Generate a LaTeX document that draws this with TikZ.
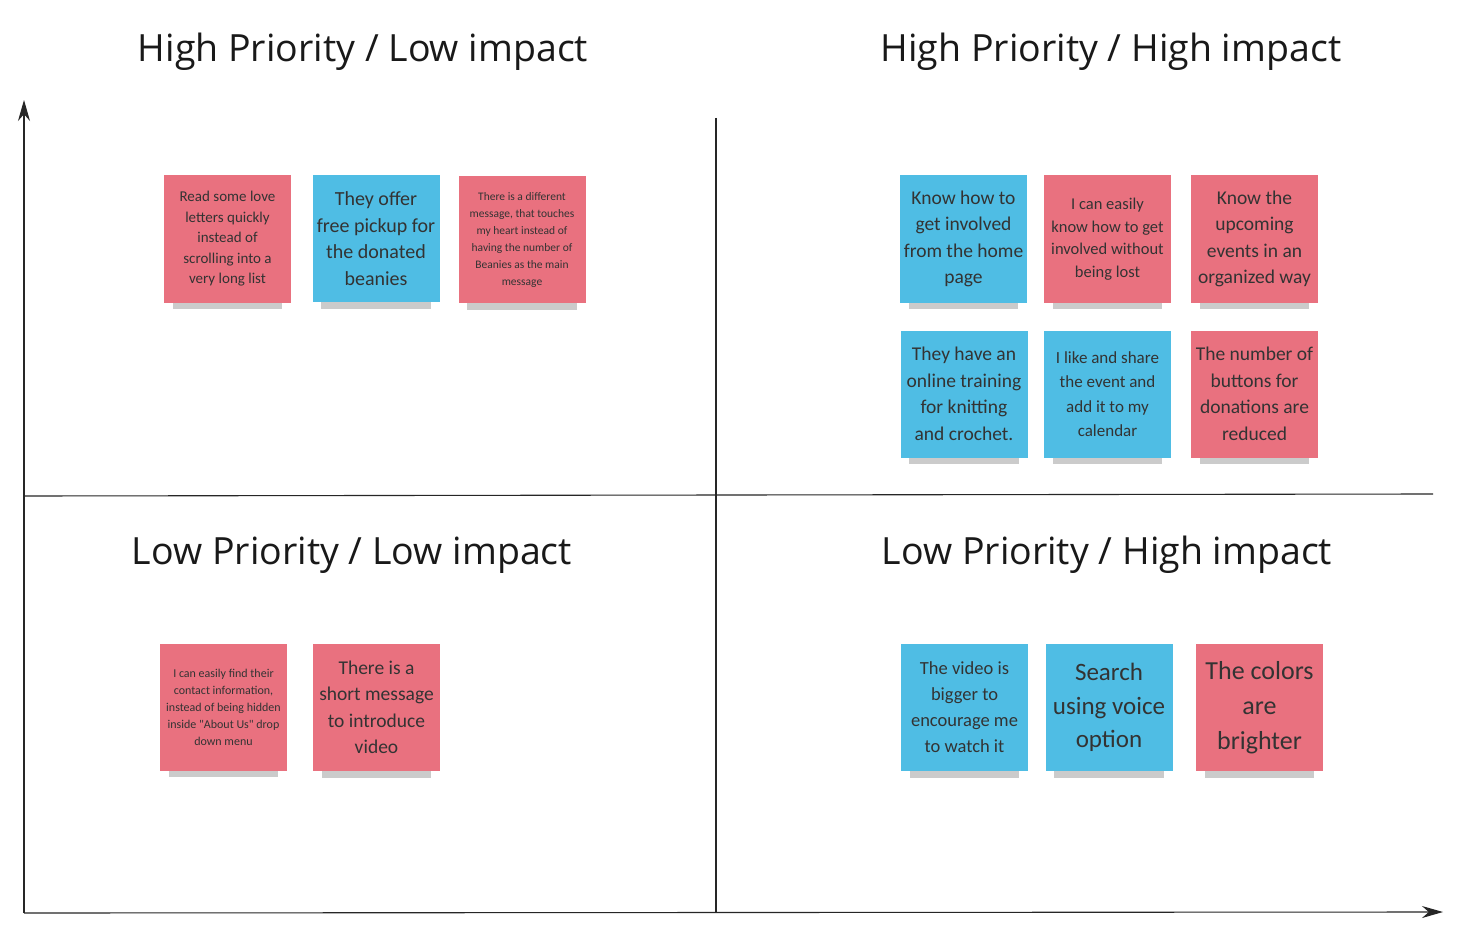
\documentclass[tikz,border=0pt]{standalone}
\usepackage{fontspec}
\setmainfont{Open Sans}
\newfontfamily\handfont{Carlito}
\usetikzlibrary{arrows.meta,shadows}

\tikzset{
  quadtitle/.style={font=\fontsize{37.5}{44}\selectfont, text=black!90},
  sticky/.style={minimum width=127pt, minimum height=127pt, inner sep=2pt,
    align=center, text=black!80,
    drop shadow={shadow xshift=0pt, shadow yshift=-18pt, shadow scale=0.86,
      opacity=0.25, fill=black!80}},
  pinknote/.style={sticky, fill=notepink},
  bluenote/.style={sticky, fill=noteblue},
  axis/.style={line width=1.1pt, black!85}
}
\definecolor{notepink}{HTML}{E9717F}
\definecolor{noteblue}{HTML}{4FBDE4}

\begin{document}
\begin{tikzpicture}[x=1pt,y=-1pt]
  \useasboundingbox[fill=white] (0,0) rectangle (1466,928);
  % axes and quadrant lines
  \draw[axis,-{Stealth[length=21pt,width=12pt]}] (24,913) -- (24,100);
  \draw[axis,-{Stealth[length=21pt,width=12pt]}] (24,913) -- (1443,912);
  \draw[axis] (716,118) -- (716,913);
  \draw[axis] (24,496) -- (1433,494);

  % quadrant titles
  \node[quadtitle] (hplow) at (363,52) {High Priority / Low impact};
  \node[quadtitle] (hphigh) at (1111,52) {High Priority / High impact};
  \node[quadtitle] (lplow) at (352,555) {Low Priority / Low impact};
  \node[quadtitle] (lphigh) at (1107,555) {Low Priority / High impact};

  % high priority / low impact
  \node[pinknote,font=\handfont\fontsize{15}{20.5}\selectfont] (loveletters) at (227.5,239)
    {Read some love\\letters quickly\\instead of\\scrolling into a\\very long list};
  \node[bluenote,font=\handfont\fontsize{20}{26.5}\selectfont] (pickup) at (376,238.5)
    {They offer\\free pickup for\\the donated\\beanies};
  \node[pinknote,font=\handfont\fontsize{11.5}{17}\selectfont] (message) at (522,239.5)
    {There is a different\\message, that touches\\my heart instead of\\having the number of\\Beanies as the main\\message};

  % high priority / high impact
  \node[bluenote,font=\handfont\fontsize{19.5}{26.5}\selectfont] (getinvolved) at (963.5,239)
    {Know how to\\get involved\\from the home\\page};
  \node[pinknote,font=\handfont\fontsize{16.5}{22.5}\selectfont] (notlost) at (1107.5,239)
    {I can easily\\know how to get\\involved without\\being lost};
  \node[pinknote,font=\handfont\fontsize{19.5}{26.5}\selectfont] (upcoming) at (1254.5,239)
    {Know the\\upcoming\\events in an\\organized way};
  \node[bluenote,font=\handfont\fontsize{19.5}{26.5}\selectfont] (training) at (964,394)
    {They have an\\online training\\for knitting\\and crochet.};
  \node[bluenote,font=\handfont\fontsize{17}{24.5}\selectfont] (calendar) at (1107.5,394)
    {I like and share\\the event and\\add it to my\\calendar};
  \node[pinknote,font=\handfont\fontsize{19.5}{26.5}\selectfont] (buttons) at (1254.5,394)
    {The number of\\buttons for\\donations are\\reduced};

  % low priority / low impact
  \node[pinknote,font=\handfont\fontsize{12}{17}\selectfont] (contact) at (223.5,707)
    {I can easily find their\\contact information,\\instead of being hidden\\inside "About Us" drop\\down menu};
  \node[pinknote,font=\handfont\fontsize{19.5}{26.5}\selectfont] (introvideo) at (376.5,707.5)
    {There is a\\short message\\to introduce\\video};

  % low priority / high impact
  \node[bluenote,font=\handfont\fontsize{18.5}{26}\selectfont] (biggervideo) at (964.5,707.5)
    {The video is\\bigger to\\encourage me\\to watch it};
  \node[bluenote,font=\handfont\fontsize{25}{33.5}\selectfont] (voice) at (1109,707.5)
    {Search\\using voice\\option};
  \node[pinknote,font=\handfont\fontsize{26}{35}\selectfont] (colors) at (1259.5,707.5)
    {The colors\\are\\brighter};
\end{tikzpicture}
\end{document}
